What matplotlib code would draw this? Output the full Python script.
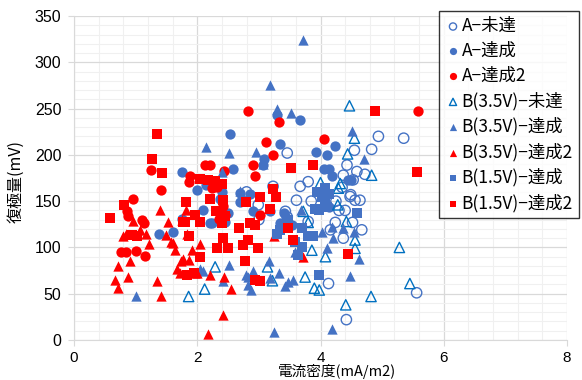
import matplotlib
matplotlib.use("Agg")
import matplotlib.pyplot as plt
from matplotlib.ticker import MultipleLocator

plt.rcParams['font.family'] = ['Noto Sans CJK JP', 'DejaVu Sans']

# ---- data (current density mA/m2, depolarization mV) ----
a_miss_x = [4.94, 5.35, 4.55, 4.83, 4.43, 4.37, 4.59, 4.72, 3.80, 3.67, 3.46, 3.23, 4.53, 4.35, 4.48, 4.56,
            4.64, 4.40, 3.61, 2.99, 3.43, 3.46, 3.80, 4.49, 4.52, 4.67, 4.37, 4.42, 4.13, 5.56, 4.24, 4.16,
            2.80, 3.00, 3.85, 4.25, 4.30]
a_miss_y = [220, 218, 205, 206, 189, 178, 182, 179, 171, 166, 202, 166, 173, 165, 155, 151,
            151, 140, 151, 146, 139, 133, 128, 157, 127, 119, 110, 22, 61, 51, 127, 119,
            160, 130, 150, 150, 140]

a_ok_x = [1.75, 2.53, 3.66, 3.29, 3.34, 3.93, 4.11, 4.23, 2.58, 4.05, 4.13, 4.18, 3.09, 3.06, 2.10, 2.40,
          2.69, 2.86, 3.18, 2.37, 1.38, 1.60, 1.75, 4.45, 4.50, 4.13, 1.99, 2.15, 2.21, 2.45, 2.50, 2.69,
          2.91, 3.40, 3.34, 2.24, 3.53]
a_ok_y = [181, 223, 238, 243, 212, 203, 200, 210, 185, 185, 185, 177, 195, 189, 140, 160,
          149, 158, 139, 152, 115, 117, 131, 173, 173, 144, 162, 167, 126, 128, 137, 159,
          139, 137, 126, 126, 124]

a_ok2_x = [5.58, 2.82, 3.33, 3.12, 4.05, 3.23, 2.90, 2.94, 2.12, 2.20, 2.44, 1.88, 1.86, 1.25, 1.41, 0.95,
           0.86, 0.88, 1.11, 1.13, 0.77, 0.84, 1.00, 1.16, 2.24, 2.32, 2.42, 2.39, 2.35, 3.02, 2.45]
a_ok2_y = [247, 247, 235, 214, 217, 200, 189, 177, 189, 189, 183, 177, 171, 184, 162, 152,
           139, 134, 130, 126, 95, 95, 96, 91, 164, 165, 145, 137, 131, 135, 135]

b35_miss_x = [4.47, 4.55, 4.44, 4.83, 4.00, 4.29, 4.28, 3.72, 3.80, 4.56, 4.56, 4.08, 3.75, 3.90, 3.98, 4.82,
              4.41, 5.28, 5.45, 3.86, 2.29, 2.12, 3.14, 3.22, 1.86, 4.42, 4.32]
b35_miss_y = [253, 218, 201, 178, 170, 164, 146, 139, 127, 108, 99, 90, 68, 56, 54, 47,
              38, 100, 61, 97, 79, 55, 79, 64, 47, 128, 169]

b35_ok_x = [3.72, 3.18, 3.30, 3.52, 2.14, 2.52, 2.95, 3.07, 2.40, 4.51, 4.71, 2.69, 3.69, 4.18, 4.37, 4.54,
            4.62, 4.48, 4.18, 3.24, 3.17, 3.32, 3.48, 3.55, 3.18, 2.83, 2.87, 2.52, 2.41, 2.79, 2.82, 3.43,
            2.04, 2.10, 3.59, 4.10, 4.21, 4.02, 1.00, 2.90]
b35_ok_y = [324, 275, 249, 245, 209, 202, 203, 190, 182, 226, 196, 161, 140, 122, 121, 117,
            88, 69, 12, 9, 85, 72, 63, 65, 67, 68, 54, 81, 64, 70, 59, 58,
            77, 75, 95, 99, 110, 117, 47, 74]

b35_ok2_x = [1.39, 1.53, 0.96, 0.85, 0.79, 1.22, 1.17, 1.07, 1.50, 1.57, 1.64, 0.91, 0.72, 0.67, 0.72, 0.88,
             1.35, 1.41, 1.67, 1.74, 1.91, 1.75, 1.83, 1.96, 1.87, 1.61, 1.77, 1.72, 2.04, 2.00, 2.21, 2.44,
             2.55, 2.42, 2.18, 3.25, 3.72, 1.82]
b35_ok2_y = [140, 128, 129, 114, 112, 104, 115, 119, 113, 106, 97, 85, 80, 65, 56, 68,
             64, 47, 77, 85, 97, 130, 115, 72, 86, 105, 88, 72, 104, 72, 70, 68,
             55, 27, 7, 112, 90, 140]

b15_ok_x = [3.94, 4.07, 4.13, 4.02, 3.97, 4.10, 4.59, 3.91, 3.34, 3.97, 3.70, 3.64, 3.80, 3.88, 3.70, 3.58,
            3.48, 4.08, 3.30]
b15_ok_y = [160, 164, 158, 155, 140, 144, 137, 142, 119, 70, 101, 92, 112, 112, 121, 106,
            130, 150, 115]

b15_ok2_x = [1.35, 1.27, 1.43, 2.04, 0.59, 0.81, 1.81, 1.80, 1.97, 1.87, 1.84, 1.95, 0.94, 1.02, 3.52, 2.18,
             2.29, 2.40, 2.20, 2.79, 3.02, 3.23, 3.28, 3.18, 3.88, 4.88, 5.57, 2.05, 2.40, 2.67, 2.94, 2.42,
             2.32, 2.50, 2.83, 2.99, 2.05, 2.78, 2.94, 3.02, 3.48, 3.55, 4.44, 2.30, 2.45, 1.77, 2.42, 2.75,
             2.86]
b15_ok2_y = [223, 195, 180, 174, 132, 146, 149, 128, 135, 112, 70, 72, 113, 112, 186, 173,
             172, 169, 152, 149, 155, 163, 154, 142, 189, 247, 181, 128, 126, 121, 124, 110,
             99, 99, 108, 99, 90, 85, 65, 64, 121, 108, 93, 139, 134, 127, 151, 103,
             126]

labels = ["A−未達", "A−達成", "A−達成2", "B(3.5V)−未達", "B(3.5V)−達成",
          "B(3.5V)−達成2", "B(1.5V)−達成", "B(1.5V)−達成2"]

BLUE = "#4472C4"
LBLUE = "#0070C0"
RED = "#FF0000"

fig = plt.figure(figsize=(5.82, 3.80), dpi=100)
ax = fig.add_axes([74/582, 40/380, 493/582, 324/380])

S = 55
ax.scatter(a_miss_x, a_miss_y, s=S, marker='o', facecolors='none', edgecolors=BLUE, linewidths=1.0, label=labels[0], zorder=3)
ax.scatter(a_ok_x, a_ok_y, s=S, marker='o', color=BLUE, linewidths=0, label=labels[1], zorder=3)
ax.scatter(a_ok2_x, a_ok2_y, s=S, marker='o', color=RED, linewidths=0, label=labels[2], zorder=3)
ax.scatter(b35_miss_x, b35_miss_y, s=S, marker='^', facecolors='none', edgecolors=LBLUE, linewidths=1.0, label=labels[3], zorder=3)
ax.scatter(b35_ok_x, b35_ok_y, s=S, marker='^', color=BLUE, linewidths=0, label=labels[4], zorder=3)
ax.scatter(b35_ok2_x, b35_ok2_y, s=S, marker='^', color=RED, linewidths=0, label=labels[5], zorder=3)
ax.scatter(b15_ok_x, b15_ok_y, s=S*0.85, marker='s', color=BLUE, linewidths=0, label=labels[6], zorder=3)
ax.scatter(b15_ok2_x, b15_ok2_y, s=S*0.85, marker='s', color=RED, linewidths=0, label=labels[7], zorder=3)

ax.set_xlim(0, 8)
ax.set_ylim(0, 350)
ax.xaxis.set_major_locator(MultipleLocator(2))
ax.xaxis.set_minor_locator(MultipleLocator(0.4))
ax.yaxis.set_major_locator(MultipleLocator(50))
ax.yaxis.set_minor_locator(MultipleLocator(10))
ax.grid(which='major', color='#d9d9d9', linewidth=0.9, zorder=0)
ax.grid(which='minor', color='#f0f0f0', linewidth=0.8, zorder=0)
ax.set_axisbelow(True)
for side in ['top', 'right']:
    ax.spines[side].set_visible(False)
for side in ['left', 'bottom']:
    ax.spines[side].set_color('#d9d9d9')
ax.tick_params(which='major', direction='out', length=4, color='#d9d9d9', labelsize=11.5,
               labelcolor='#000000', pad=5)
ax.tick_params(axis='x', which='major', pad=4, labelsize=11)
ax.tick_params(which='minor', length=0)
for lab in ax.get_xticklabels() + ax.get_yticklabels():
    lab.set_family(['Liberation Sans', 'DejaVu Sans'])

ax.set_xlabel("電流密度(mA/m2)", fontsize=10.5)
ax.set_ylabel("復極量(mV)", fontsize=11.5)
ax.xaxis.label.set_verticalalignment('baseline')
ax.xaxis.set_label_coords((337-74)/493, -(376-340)/324)
ax.yaxis.set_label_coords(-0.1, 0.49)

leg = fig.legend(loc='upper right', bbox_to_anchor=(579/582, 1 - 11/380), fontsize=12.5,
                 markerscale=0.7, frameon=True, fancybox=False, handletextpad=0.05,
                 handlelength=0.9, borderpad=0.35, labelspacing=0.4, borderaxespad=0)
leg.get_frame().set_edgecolor('black')
leg.get_frame().set_linewidth(1.0)

fig.savefig("out.png", dpi=100)
